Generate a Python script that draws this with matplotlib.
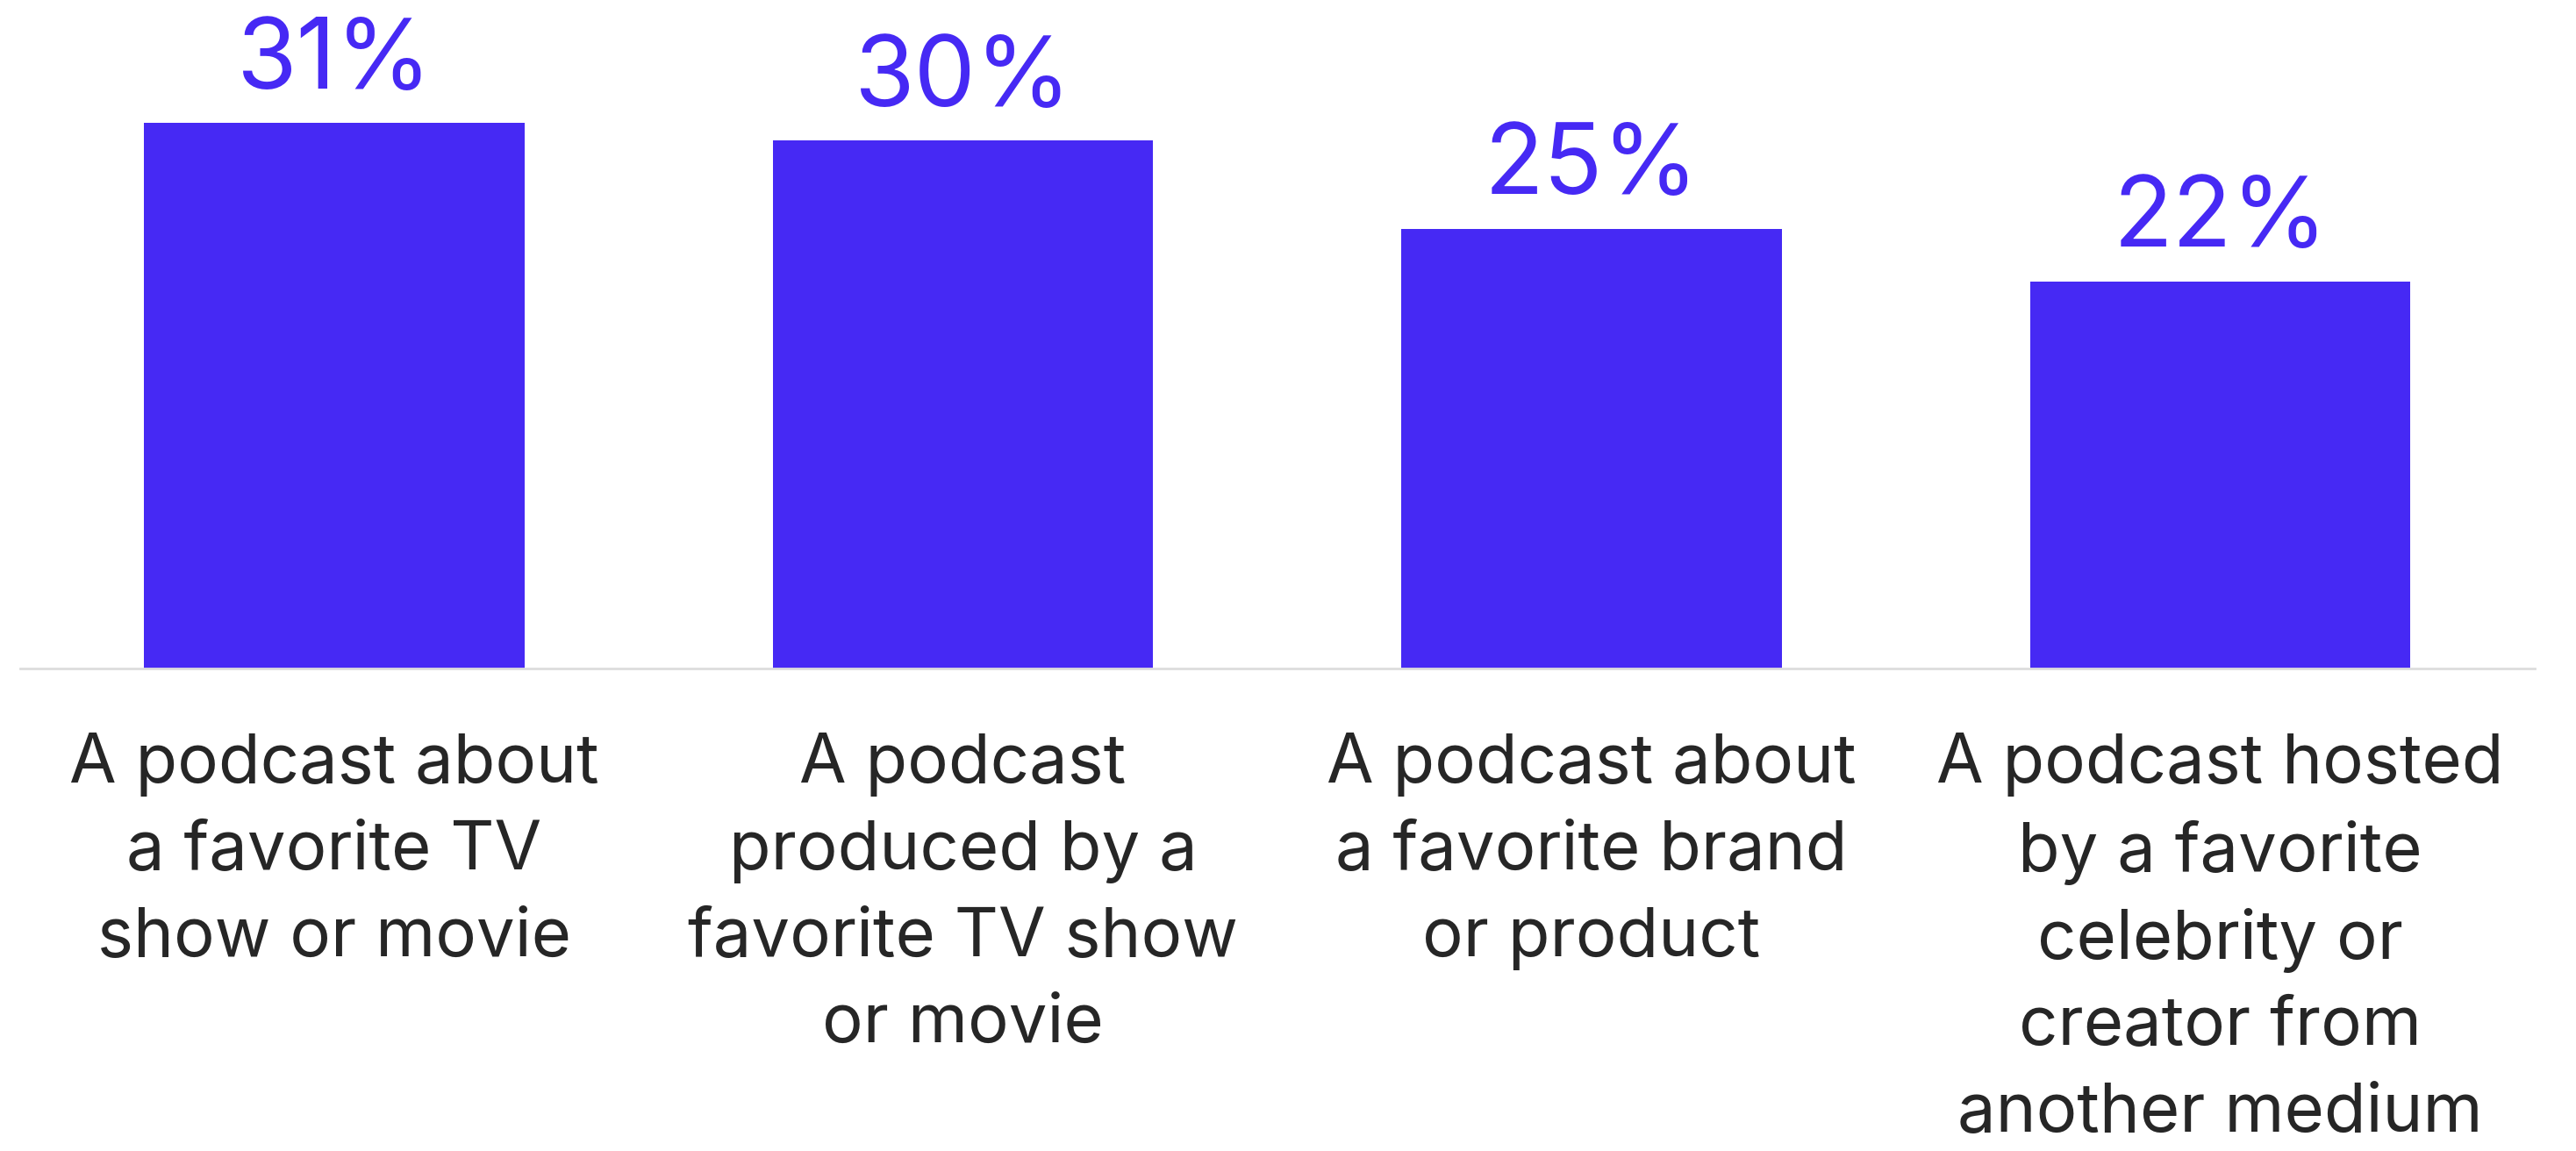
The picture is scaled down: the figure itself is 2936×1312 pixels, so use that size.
import numpy as np
import matplotlib.pyplot as plt

categories = [
    "A podcast about\na favorite TV\nshow or movie",
    "A podcast\nproduced by a\nfavorite TV show\nor movie",
    "A podcast about\na favorite brand\nor product",
    "A podcast hosted\nby a favorite\ncelebrity or\ncreator from\nanother medium",
]
values = [31, 30, 25, 22]

bar_color = "#4629f4"
text_color = "#262626"

plt.rcParams['font.family'] = ['Inter', 'DejaVu Sans']

fig = plt.figure(figsize=(29.36, 13.12), dpi=100)
ax = fig.add_axes([0.0077, 0.4194, 0.9763, 0.5806])

x = np.arange(len(values))
bars = ax.bar(x, values, width=0.605, color=bar_color)

ax.set_xlim(-0.5, len(values) - 0.5)
ax.set_ylim(0, 38)

for spine in ["top", "right", "left"]:
    ax.spines[spine].set_visible(False)
ax.spines["bottom"].set_color("#dddddd")
ax.spines["bottom"].set_linewidth(2)
ax.set_yticks([])

ax.set_xticks(x, categories, fontsize=56, color=text_color, linespacing=1.45)
ax.tick_params(axis="x", length=0, pad=53)

ax.bar_label(bars, labels=[f"{v}%" for v in values], padding=12,
             fontsize=80, color=bar_color)

fig.savefig("out.png", dpi=100, facecolor="white")
